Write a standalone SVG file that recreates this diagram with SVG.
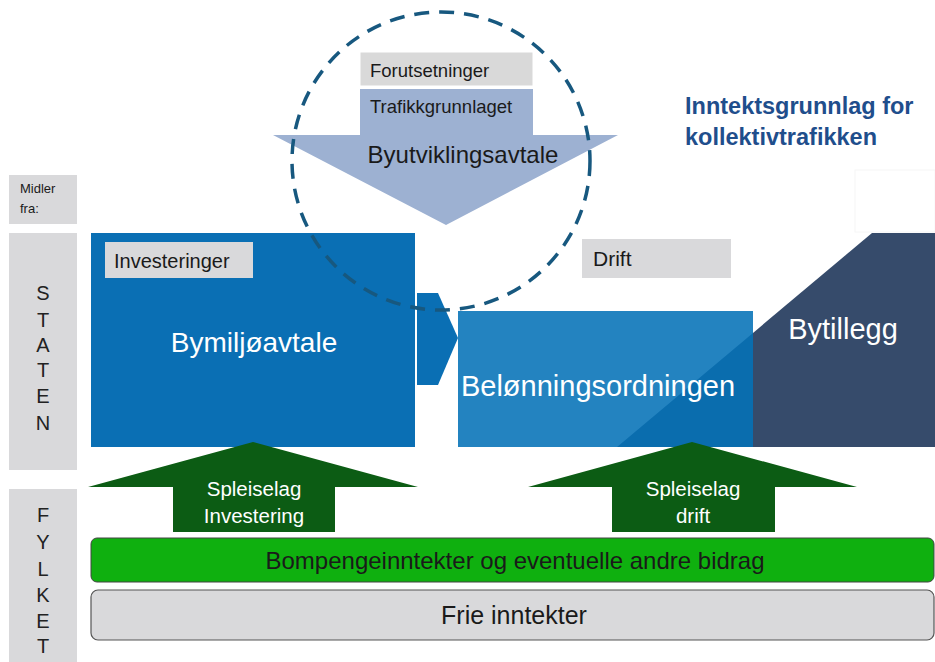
<svg xmlns="http://www.w3.org/2000/svg" width="935" height="662" viewBox="0 0 935 662">
<style>
text{font-family:"Liberation Sans",Arial,sans-serif}
.side{fill:#d9d9db}
.lbl{fill:#d9d9db}
.side-t{font-size:20px;fill:#222;text-anchor:middle}
.dk{fill:#1a1a1a}
.wt{fill:#ffffff}
.mid{text-anchor:middle}
.garrow{fill:#0c5c14}
</style>
<rect width="935" height="662" fill="#ffffff"/>

<g id="midler">
<rect class="side" x="9" y="175" width="68" height="49"/>
<text x="20" y="193" font-size="13" class="dk">Midler</text>
<text x="20" y="213" font-size="13" class="dk">fra:</text>
</g>

<g id="staten">
<rect class="side" x="9" y="233" width="68" height="237"/>
<text class="side-t" x="43" y="300">S</text>
<text class="side-t" x="43" y="327">T</text>
<text class="side-t" x="43" y="352">A</text>
<text class="side-t" x="43" y="377">T</text>
<text class="side-t" x="43" y="403">E</text>
<text class="side-t" x="43" y="430">N</text>
</g>

<g id="fylket">
<rect class="side" x="9" y="489" width="68" height="180"/>
<text class="side-t" x="43" y="522">F</text>
<text class="side-t" x="43" y="549">Y</text>
<text class="side-t" x="43" y="576">L</text>
<text class="side-t" x="43" y="602">K</text>
<text class="side-t" x="43" y="628">E</text>
<text class="side-t" x="43" y="653">T</text>
</g>

<g id="title">
<text x="685" y="114" font-size="23.5" font-weight="bold" fill="#1f4e8c">Inntektsgrunnlag for</text>
<text x="685" y="145" font-size="23.5" font-weight="bold" fill="#1f4e8c">kollektivtrafikken</text>
</g>

<rect x="855" y="170" width="80" height="62" fill="#ffffff" stroke="#f6f6f6" stroke-width="1"/>

<g id="bytillegg">
<polygon points="617,447 872,233 935,233 935,447" fill="#364b6b"/>
<text x="843" y="339" font-size="29" class="wt mid">Bytillegg</text>
</g>

<g id="belonning">
<rect x="458" y="311" width="295" height="136" fill="#0572b7" fill-opacity="0.88"/>
<text x="598" y="396" font-size="29" class="wt mid">Belønningsordningen</text>
</g>

<g id="drift">
<rect class="lbl" x="582" y="239" width="149" height="39"/>
<text x="593" y="266" font-size="21" class="dk">Drift</text>
</g>

<g id="bymiljo">
<rect x="91" y="233" width="324" height="214" fill="#0a6fb4"/>
<rect class="lbl" x="105" y="242" width="148" height="36"/>
<text x="114" y="268" font-size="20" class="dk">Investeringer</text>
<text x="254" y="352" font-size="28" class="wt mid">Bymiljøavtale</text>
</g>

<g id="connectors">
<polygon points="417,293 438,293 458,338 438,385 417,385" fill="#0a6fb4"/>
<polygon class="garrow" points="253,442 418,487 335,487 335,532 173,532 173,487 88,487"/>
<polygon class="garrow" points="692,442 857,487 775,487 775,532 612,532 612,487 528,487"/>
</g>

<g id="spleiselag-inv">
<text x="254" y="496" font-size="20.5" class="wt mid">Spleiselag</text>
<text x="254" y="523" font-size="20.5" class="wt mid">Investering</text>
</g>

<g id="spleiselag-drift">
<text x="693" y="496" font-size="20.5" class="wt mid">Spleiselag</text>
<text x="693" y="523" font-size="20.5" class="wt mid">drift</text>
</g>

<g id="byutvikling">
<polygon points="360,89 533,89 533,135 618,135 446,225 273,135 360,135" fill="#9db1d2"/>
<rect x="360" y="52" width="173" height="34" fill="#d9d9d9" stroke="#ffffff" stroke-width="1"/>
<text x="370" y="77" font-size="18.5" class="dk">Forutsetninger</text>
<text x="370" y="113" font-size="18.5" class="dk">Trafikkgrunnlaget</text>
<text x="463" y="163" font-size="24" class="dk mid">Byutviklingsavtale</text>
</g>

<g id="bompenger">
<rect x="91" y="538" width="843" height="44" rx="6" fill="#0fb00f" stroke="#444" stroke-width="1"/>
<text x="515" y="569" font-size="24" class="dk mid">Bompengeinntekter og eventuelle andre bidrag</text>
</g>

<g id="frie">
<rect x="91" y="590" width="843" height="50" rx="7" fill="#d9d9db" stroke="#555" stroke-width="1.2"/>
<text x="514" y="624" font-size="25" class="dk mid">Frie inntekter</text>
</g>

<g id="circle">
<circle cx="441" cy="161" r="149" fill="none" stroke="#17587f" stroke-width="3.5" stroke-dasharray="15 10"/>
</g>
</svg>
